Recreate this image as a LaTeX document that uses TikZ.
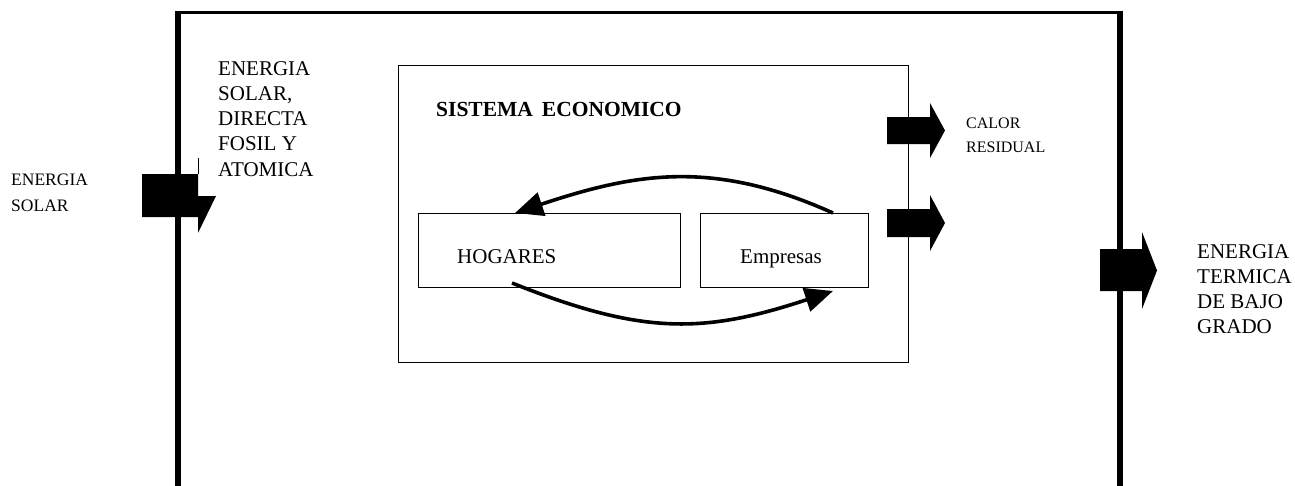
\documentclass[tikz,border=0pt]{standalone}
\usepackage{fontspec}
\setmainfont{Liberation Serif}
\usetikzlibrary{arrows.meta}
\begin{document}
\begin{tikzpicture}[x=1pt,y=-1pt,
  bigtxt/.style={anchor=base west,inner sep=0,font=\fontsize{21}{25}\selectfont},
  smalltxt/.style={anchor=base west,inner sep=0,font=\fontsize{17.5}{21}\selectfont},
  titletxt/.style={anchor=base west,inner sep=0,font=\fontsize{21.5}{25}\selectfont\bfseries},
  boxstyle/.style={draw,line width=1pt,inner sep=0,anchor=north west},
  blockarrow/.style={fill=black,draw=none},
  flow/.style={line width=3.6pt,-{Triangle[length=28pt,width=24pt]}}]
\useasboundingbox (0,0) rectangle (1295,485);

% outer frame
\draw[line width=3pt] (175.5,12.5) -- (1122.5,12.5);
\draw[line width=5.5pt] (178,11) -- (178,490);
\draw[line width=5.5pt] (1120,11) -- (1120,490);

% economic system box
\node[boxstyle,minimum width=510,minimum height=297] (eco) at (398,65) {};
\node[titletxt] (ecot) at (436,116) {SISTEMA\, ECONOMICO};

% inner boxes
\node[boxstyle,minimum width=262,minimum height=74] (hog) at (418,213) {};
\node[boxstyle,minimum width=168,minimum height=74] (emp) at (700,213) {};
\node[bigtxt] (hogt) at (457,263) {HOGARES};
\node[bigtxt] (empt) at (740,263) {Empresas};

% circular flows
\coordinate (topA) at (833,213);
\coordinate (topB) at (515,213);
\coordinate (botA) at (512,283);
\coordinate (botB) at (833,291);
\draw[flow] (topA) .. controls (713,159) and (635,173) .. (topB);
\draw[flow] (botA) .. controls (642,335) and (703,334) .. (botB);

% left input arrow (ENERGIA SOLAR)
\fill[blockarrow] (142,174) -- (198,174) -- (198,196) -- (216,196) -- (198,233) -- (198,217) -- (142,217) -- cycle;
\draw[line width=0.9pt] (198,158) -- (198,174);

% right outputs from economic system
\fill[blockarrow] (887,117) -- (930,117) -- (930,103) -- (945,130.5) -- (930,158) -- (930,144) -- (887,144) -- cycle;
\fill[blockarrow] (887,209) -- (930,209) -- (930,195) -- (945,223) -- (930,251) -- (930,237) -- (887,237) -- cycle;

% output of the whole system
\fill[blockarrow] (1100,249) -- (1142,249) -- (1142,232) -- (1157,270.5) -- (1142,309) -- (1142,291) -- (1100,291) -- cycle;

% texts
\node[smalltxt] (es1) at (11,185) {ENERGIA};
\node[smalltxt] (es2) at (11,211) {SOLAR};

\node[bigtxt] (in1) at (218,75) {ENERGIA};
\node[bigtxt] (in2) at (218,100) {SOLAR,};
\node[bigtxt] (in3) at (218,125) {DIRECTA};
\node[bigtxt] (in4) at (218,150) {FOSIL Y};
\node[bigtxt] (in5) at (218,176) {ATOMICA};

\node[smalltxt,font=\fontsize{16}{20}\selectfont] (cr1) at (966,128) {CALOR};
\node[smalltxt,font=\fontsize{16}{20}\selectfont] (cr2) at (966,152) {RESIDUAL};

\node[bigtxt] (et1) at (1197,258) {ENERGIA};
\node[bigtxt] (et2) at (1197,283) {TERMICA};
\node[bigtxt] (et3) at (1197,308) {DE BAJO};
\node[bigtxt] (et4) at (1197,333) {GRADO};
\end{tikzpicture}
\end{document}
